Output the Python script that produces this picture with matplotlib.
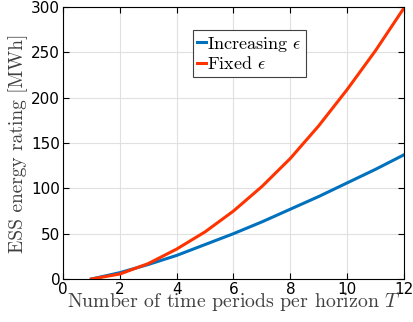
import matplotlib.pyplot as plt

# horizon length T
T = [1, 2, 3, 4, 5, 6, 7, 8, 9, 10, 11, 12]
# ESS energy rating [MWh]
increasing = [0, 7, 16, 26, 38, 50, 63, 77, 91, 106, 121, 137]
fixed = [0, 5.5, 17, 33, 52, 75, 102, 133, 169, 209, 252, 299]

xticks = [0, 2, 4, 6, 8, 10, 12]
yticks = [0, 50, 100, 150, 200, 250, 300]

plt.rcParams['mathtext.fontset'] = 'cm'

fig = plt.figure(figsize=(4.14, 3.22), dpi=100)
ax = fig.add_axes([63/414, 1-279/322, 341/414, 272/322])

ax.plot(T, increasing, color='#0072BD', lw=2.2, label=r'Increasing $\epsilon$')
ax.plot(T, fixed, color='#FF3300', lw=2.2, label=r'Fixed $\epsilon$')

ax.set_xlim(0, 12)
ax.set_ylim(0, 300)
ax.set_xticks(xticks)
ax.set_yticks(yticks)
ax.tick_params(direction='in', top=True, right=True, labelsize=11, pad=2, length=4)
ax.grid(True, color='#e0e0e0', lw=0.8)
ax.set_axisbelow(True)

ax.set_xlabel('Number of time periods per horizon $T$', family='cmr10', fontsize=14.3,
              color='#404040', labelpad=-4)
ax.set_ylabel('ESS energy rating [MWh]', family='cmr10', fontsize=14,
              color='#404040', labelpad=2)

leg = ax.legend(loc='upper left', bbox_to_anchor=(0.381, 0.915), borderaxespad=0,
                prop={'family': 'cmr10', 'size': 13},
                handlelength=0.45, handletextpad=0.1, borderpad=0.25, labelspacing=0.1,
                fancybox=False, framealpha=1, edgecolor='#404040')
leg.get_frame().set_linewidth(0.8)

plt.savefig('out.png')
